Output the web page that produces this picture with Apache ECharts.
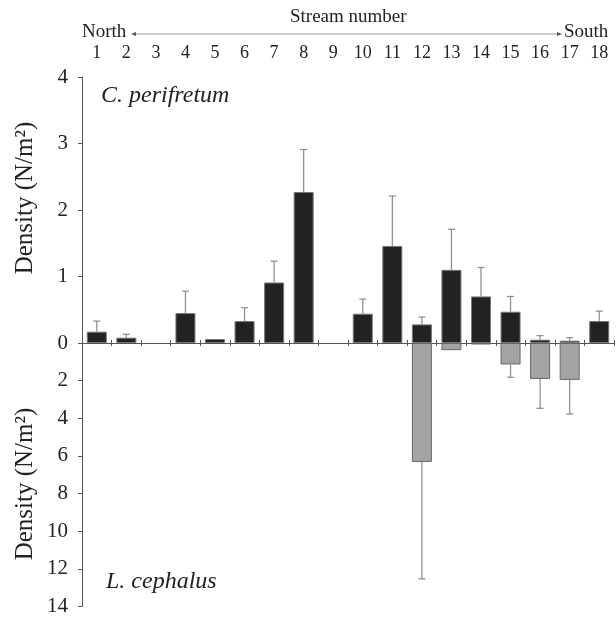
<!DOCTYPE html>
<html>
<head>
<meta charset="utf-8">
<script src="https://cdn.jsdelivr.net/npm/echarts@6/dist/echarts.min.js"></script>
<style>html,body{margin:0;padding:0;background:#fff}#c{width:616px;height:617px}</style>
</head>
<body>
<div id="c"></div>
<script>
var streams = ['1','2','3','4','5','6','7','8','9','10','11','12','13','14','15','16','17','18'];
var cPeri = [0.17, 0.08, 0, 0.45, 0.06, 0.33, 0.91, 2.27, 0, 0.44, 1.46, 0.28, 1.10, 0.70, 0.47, 0.05, 0.035, 0.33];
var cPeriErr = [0.33, 0.13, null, 0.78, null, 0.53, 1.23, 2.91, null, 0.66, 2.21, 0.39, 1.71, 1.135, 0.70, 0.11, 0.08, 0.48];
var lCeph = [0, 0, 0, 0, 0, 0, 0, 0, 0, 0, 0, 6.32, 0.38, 0.08, 1.14, 1.91, 1.96, 0];
var lCephErr = [null, null, null, null, null, null, null, null, null, null, null, 12.53, null, null, 1.82, 3.47, 3.77, null];
var topTicks = [0, 1, 2, 3, 4];
var bottomTicks = [0, 2, 4, 6, 8, 10, 12, 14];

var FONT = 'Liberation Serif';
var TXT = '#222';

function barData(vals) {
  return vals.map(function (v) { return v === 0 ? '-' : v; });
}
function errData(vals, errs) {
  var out = [];
  for (var i = 0; i < vals.length; i++) {
    if (errs[i] != null) out.push([i, vals[i], errs[i]]);
  }
  return out;
}
function errRender(params, api) {
  var xi = api.value(0), v = api.value(1), e = api.value(2);
  var p0 = api.coord([xi, v]);
  var p1 = api.coord([xi, e]);
  var w = 7;
  var st = { stroke: '#8a8a8a', lineWidth: 1.2 };
  return { type: 'group', children: [
    { type: 'line', shape: { x1: p0[0], y1: p0[1], x2: p1[0], y2: p1[1] }, style: st },
    { type: 'line', shape: { x1: p1[0] - w / 2, y1: p1[1], x2: p1[0] + w / 2, y2: p1[1] }, style: st }
  ]};
}

var chart = echarts.init(document.getElementById('c'));
var GL = 82, GT = 77, GH = 266;
var option = {
  animation: false,
  backgroundColor: '#fff',
  textStyle: { fontFamily: FONT },
  grid: [
    { left: GL, right: 2, top: GT, height: GH },
    { left: GL, right: 2, top: GT + GH, height: GH }
  ],
  xAxis: [
    { type: 'category', data: streams, gridIndex: 0, position: 'bottom',
      axisLine: { lineStyle: { color: '#555', width: 1 } },
      axisTick: { show: true, length: 3, lineStyle: { color: '#555' } },
      axisLabel: { show: false }, splitLine: { show: false } },
    { type: 'category', data: streams, gridIndex: 1, position: 'top',
      axisLine: { lineStyle: { color: '#555', width: 1 } },
      axisTick: { show: true, length: 3, lineStyle: { color: '#555' } },
      axisLabel: { show: false }, splitLine: { show: false } },
    { type: 'category', data: streams, gridIndex: 0, position: 'top',
      axisLine: { show: false }, axisTick: { show: false },
      axisLabel: { show: true, margin: 15, color: TXT, fontFamily: FONT, fontSize: 18 } }
  ],
  yAxis: [
    { type: 'value', gridIndex: 0, min: topTicks[0], max: topTicks[topTicks.length - 1], interval: 1,
      axisLine: { show: true, lineStyle: { color: '#555' } },
      axisTick: { show: true, length: 4, lineStyle: { color: '#555' } },
      axisLabel: { color: TXT, fontFamily: FONT, fontSize: 21, margin: 14 },
      splitLine: { show: false } },
    { type: 'value', gridIndex: 1, inverse: true, min: bottomTicks[0], max: bottomTicks[bottomTicks.length - 1], interval: 2,
      axisLine: { show: true, lineStyle: { color: '#555' } },
      axisTick: { show: true, length: 4, lineStyle: { color: '#555' } },
      axisLabel: { color: TXT, fontFamily: FONT, fontSize: 21, margin: 14, showMinLabel: false },
      splitLine: { show: false } }
  ],
  series: [
    { type: 'bar', xAxisIndex: 0, yAxisIndex: 0, data: barData(cPeri), barWidth: 20,
      itemStyle: { color: '#222', borderColor: '#777', borderWidth: 1 } },
    { type: 'custom', xAxisIndex: 0, yAxisIndex: 0, renderItem: errRender,
      data: errData(cPeri, cPeriErr), z: 3 },
    { type: 'bar', xAxisIndex: 1, yAxisIndex: 1, data: barData(lCeph), barWidth: 20,
      itemStyle: { color: '#a3a3a3', borderColor: '#666', borderWidth: 1 } },
    { type: 'custom', xAxisIndex: 1, yAxisIndex: 1, renderItem: errRender,
      data: errData(lCeph, lCephErr), z: 3 }
  ],
  graphic: [
    { type: 'text', left: 290, top: 8, style: { text: 'Stream number', font: '19px "Liberation Serif"', fill: TXT } },
    { type: 'text', left: 82, top: 23, style: { text: 'North', font: '19px "Liberation Serif"', fill: TXT } },
    { type: 'text', left: 564, top: 23, style: { text: 'South', font: '19px "Liberation Serif"', fill: TXT } },
    { type: 'line', shape: { x1: 135, y1: 34, x2: 558, y2: 34 }, style: { stroke: '#999', lineWidth: 1 } },
    { type: 'polygon', shape: { points: [[131, 34], [136, 32], [136, 36]] }, style: { fill: '#555' } },
    { type: 'polygon', shape: { points: [[562, 34], [557, 32], [557, 36]] }, style: { fill: '#555' } },
    { type: 'text', x: 25, y: 198, rotation: Math.PI / 2,
      style: { text: 'Density (N/m²)', font: '25px "Liberation Serif"', fill: TXT, align: 'center', verticalAlign: 'middle' } },
    { type: 'text', x: 25, y: 484, rotation: Math.PI / 2,
      style: { text: 'Density (N/m²)', font: '25px "Liberation Serif"', fill: TXT, align: 'center', verticalAlign: 'middle' } },
    { type: 'text', left: 101, top: 84, style: { text: 'C. perifretum', font: 'italic 24px "Liberation Serif"', fill: TXT } },
    { type: 'text', left: 106, top: 570, style: { text: 'L. cephalus', font: 'italic 24px "Liberation Serif"', fill: TXT } }
  ]
};
chart.setOption(option);
</script>
</body>
</html>
